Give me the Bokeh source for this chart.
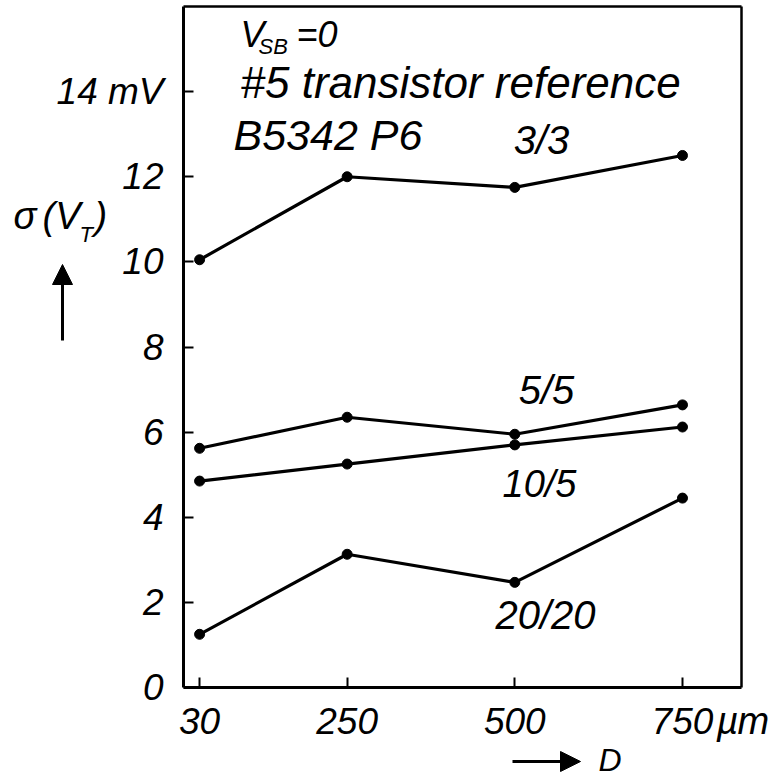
from bokeh.plotting import figure
from bokeh.models import Range1d, FixedTicker, Label, Arrow, NormalHead, LinearAxis
from bokeh.embed import file_html
from bokeh.resources import INLINE

# Spacing D (um) and threshold-voltage spread sigma(V_T) (mV) per W/L geometry
distance_um = [30, 250, 500, 750]
sigma_3_3 = [10.05, 12.0, 11.75, 12.5]
sigma_5_5 = [5.62, 6.35, 5.95, 6.64]
sigma_10_5 = [4.85, 5.25, 5.7, 6.12]
sigma_20_20 = [1.25, 3.13, 2.47, 4.45]

series = [
    ("3/3", sigma_3_3),
    ("5/5", sigma_5_5),
    ("10/5", sigma_10_5),
    ("20/20", sigma_20_20),
]

y_ticks = [0, 2, 4, 6, 8, 10, 12, 14]
x_ticks = [30, 250, 500, 750]

FONT = "Liberation Sans"
# extent of the boxed plotting area, in data units
BOX_X0, BOX_X1 = 6, 838
BOX_Y0, BOX_Y1 = 0, 16

W, H = 779, 781
# box edges on the canvas (px from top-left)
BOX_L, BOX_R, BOX_T, BOX_B = 183, 741, 6, 687
KX = (BOX_X1 - BOX_X0) / (BOX_R - BOX_L)
KY = (BOX_Y1 - BOX_Y0) / (BOX_B - BOX_T)


def dx(px):
    return BOX_X0 + (px - BOX_L) * KX


def dy(py):
    return BOX_Y0 + (BOX_B - py) * KY


# the frame spans the whole canvas; the axes are pinned to the box edges
p = figure(width=W, height=H, output_backend="svg", toolbar_location=None,
           x_range=Range1d(dx(0), dx(W)), y_range=Range1d(dy(H), dy(0)),
           min_border=0)

p.grid.visible = False
p.outline_line_color = None
p.background_fill_color = "white"
p.border_fill_color = "white"

xax, yax = p.xaxis[0], p.yaxis[0]
xax.fixed_location = BOX_Y0
yax.fixed_location = BOX_X0
xax.bounds = (BOX_X0, BOX_X1)
yax.bounds = (BOX_Y0, BOX_Y1)

for ax, ticks in ((xax, x_ticks), (yax, y_ticks)):
    ax.ticker = FixedTicker(ticks=ticks)
    ax.axis_line_width = 3
    ax.axis_line_color = "black"
    ax.major_tick_in = 10
    ax.major_tick_out = 0
    ax.major_tick_line_width = 2
    ax.minor_tick_line_color = None
    ax.major_label_text_font = FONT
    ax.major_label_text_font_style = "italic"
    ax.major_label_text_font_size = "37px"
    ax.major_label_text_color = "black"
    ax.major_label_standoff = 20

yax.major_label_overrides = {14: "14 mV"}

# plain edges closing the box on top and right
top = LinearAxis(fixed_location=BOX_Y1, bounds=(BOX_X0, BOX_X1),
                 ticker=FixedTicker(ticks=[]), axis_line_width=2.5,
                 major_label_text_color=None, major_tick_line_color=None,
                 minor_tick_line_color=None)
right = LinearAxis(fixed_location=BOX_X1, bounds=(BOX_Y0, BOX_Y1),
                   ticker=FixedTicker(ticks=[]), axis_line_width=2.5,
                   major_label_text_color=None, major_tick_line_color=None,
                   minor_tick_line_color=None)
p.add_layout(top, "above")
p.add_layout(right, "right")

for name, vals in series:
    p.line(distance_um, vals, line_color="black", line_width=3.2)
    p.scatter(distance_um, vals, size=10, fill_color="black", line_color="black")


def add_text(text, px, baseline_py, size=40, align="left"):
    # the label is anchored on the middle of its text box, which sits
    # about 0.35 em above the baseline
    p.add_layout(Label(x=dx(px), y=dy(baseline_py - 0.35 * size), text=text,
                       text_font=FONT, text_font_style="italic",
                       text_font_size=f"{size}px", text_color="black",
                       text_align=align, text_baseline="alphabetic"))


# annotation block inside the box
add_text("V", 240, 47, size=36)
add_text("SB", 258, 54, size=22)
add_text("=0", 296, 47, size=36)
add_text("#5 transistor reference", 240, 97, size=44)
add_text("B5342  P6", 233, 150, size=43)

# curve labels
add_text("3/3", 541, 153, align="center")
add_text("5/5", 546, 403, align="center")
add_text("10/5", 539, 497, size=38, align="center")
add_text("20/20", 545, 628, align="center")

# quantity labels with direction arrows
add_text("\u03c3", 13, 229, size=38)
add_text("(V", 42, 229, size=38)
add_text("T", 79, 242, size=22)
add_text(")", 94, 229, size=38)
add_text("\u00b5", 716, 734, size=38)
add_text("m", 737, 734, size=38)
add_text("D", 598, 771, size=32)

p.add_layout(Arrow(x_start=dx(512), y_start=dy(761), x_end=dx(580), y_end=dy(761),
                   line_width=3, line_color="black",
                   end=NormalHead(size=20, fill_color="black", line_color="black")))
p.add_layout(Arrow(x_start=dx(62), y_start=dy(340), x_end=dx(62), y_end=dy(264),
                   line_width=3, line_color="black",
                   end=NormalHead(size=20, fill_color="black", line_color="black")))

open("out.html", "w").write(file_html(p, INLINE))
